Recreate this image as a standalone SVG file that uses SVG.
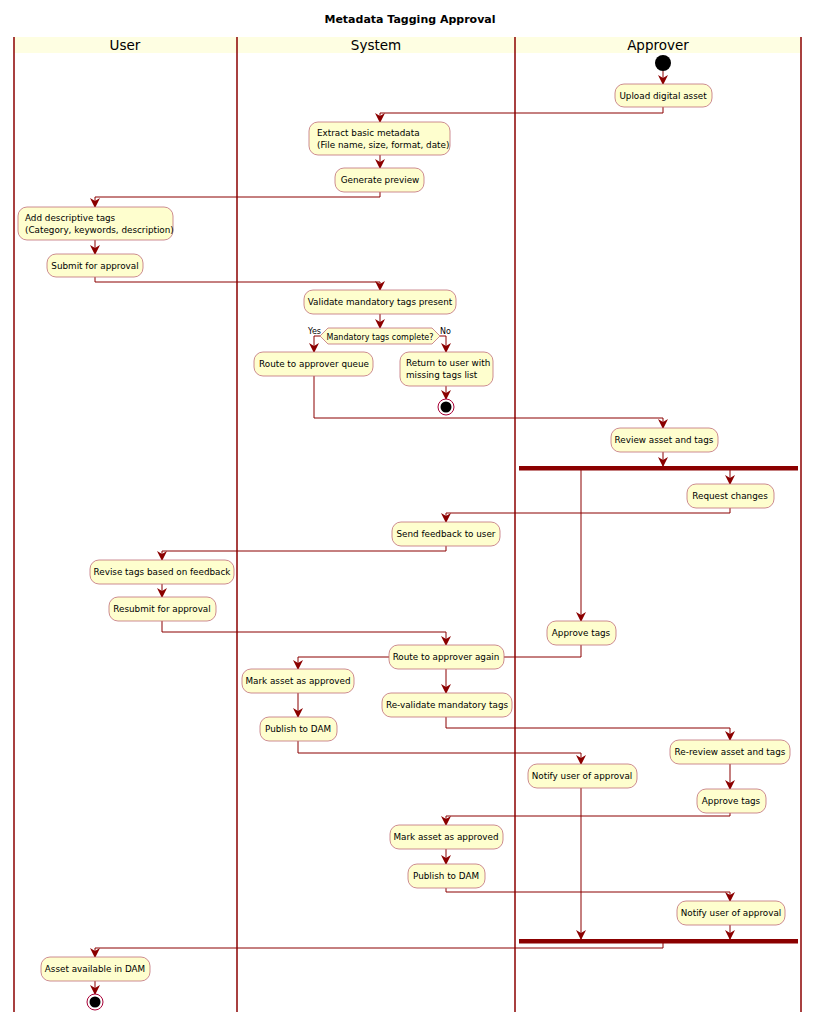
<svg xmlns="http://www.w3.org/2000/svg" width="821" height="1024" viewBox="0 0 821 1024">
<defs>
<marker id="ah" viewBox="0 0 10 10" refX="9" refY="5" markerWidth="10" markerHeight="10" markerUnits="userSpaceOnUse" orient="auto"><path d="M0,0 L10,5 L0,10 L3,5 Z" fill="#8B0000"/></marker>
</defs>
<style>
text{font-family:"DejaVu Sans",sans-serif;font-size:8.8px;fill:#000}
.n{fill:#FEFECE;stroke:#C0707A;stroke-width:0.8}
.c{fill:none;stroke:#8B0000;stroke-width:1;marker-end:url(#ah)}
.lane{stroke:#8B0000;stroke-width:1.5}
.h{font-size:13.5px}
</style>
<rect width="821" height="1024" fill="#fff"/>
<text x="410" y="23" text-anchor="middle" style="font-weight:bold;font-size:11px">Metadata Tagging Approval</text>
<g id="lanes">
<rect x="14" y="37" width="787" height="16" fill="#FEFEE2"/>
<line class="lane" x1="14" y1="37" x2="14" y2="1012"/>
<line class="lane" x1="237" y1="37" x2="237" y2="1012"/>
<line class="lane" x1="515" y1="37" x2="515" y2="1012"/>
<line class="lane" x1="801" y1="37" x2="801" y2="1012"/>
<text class="h" x="125" y="50" text-anchor="middle">User</text>
<text class="h" x="376" y="50" text-anchor="middle">System</text>
<text class="h" x="658" y="50" text-anchor="middle">Approver</text>
</g>
<g id="connectors">
<path class="c" d="M663,71 V84"/>
<path class="c" d="M663,107 V113 H380 V122"/>
<path class="c" d="M380,155 V168"/>
<path class="c" d="M380,192 V197 H95 V207"/>
<path class="c" d="M95,240 V254"/>
<path class="c" d="M95,277 V282 H380 V290"/>
<path class="c" d="M380,314 V328"/>
<path class="c" d="M320,336 H314 V352"/>
<path class="c" d="M440,336 H446 V352"/>
<path class="c" d="M446,386 V399"/>
<path class="c" d="M314,376 V418 H663 V428"/>
<path class="c" d="M663,452 V466"/>
<path class="c" d="M730,470 V484"/>
<path class="c" d="M581,470 V621"/>
<path class="c" d="M730,508 V513 H446 V522"/>
<path class="c" d="M446,546 V551 H162 V560"/>
<path class="c" d="M162,584 V597"/>
<path class="c" d="M162,621 V632 H446 V645"/>
<path class="c" d="M581,645 V657 H298 V669"/>
<path class="c" d="M446,669 V693"/>
<path class="c" d="M298,693 V717"/>
<path class="c" d="M446,717 V728 H730 V740"/>
<path class="c" d="M298,741 V753 H581 V764"/>
<path class="c" d="M730,764 V789"/>
<path class="c" d="M581,788 V939"/>
<path class="c" d="M730,813 V816 H446 V825"/>
<path class="c" d="M446,849 V864"/>
<path class="c" d="M446,888 V892 H730 V901"/>
<path class="c" d="M730,925 V939"/>
<path class="c" d="M663,943 V948 H95 V957"/>
<path class="c" d="M95,981 V994"/>
<text x="321" y="334" text-anchor="end" style="font-size:8px">Yes</text>
<text x="440" y="334" style="font-size:8px">No</text>
</g>
<g id="start"><circle cx="663" cy="63" r="8" fill="#000"/></g>
<g id="n1"><rect class="n" x="615" y="84" width="97" height="23" rx="9"/><text x="663" y="99" text-anchor="middle">Upload digital asset</text></g>
<g id="n2"><rect class="n" x="309" y="122" width="141" height="33" rx="9"/><text x="317" y="136">Extract basic metadata</text><text x="317" y="148">(File name, size, format, date)</text></g>
<g id="n3"><rect class="n" x="335" y="168" width="89" height="24" rx="9"/><text x="380" y="183" text-anchor="middle">Generate preview</text></g>
<g id="n4"><rect class="n" x="18" y="207" width="155" height="33" rx="9"/><text x="25" y="221">Add descriptive tags</text><text x="25" y="233">(Category, keywords, description)</text></g>
<g id="n5"><rect class="n" x="47" y="254" width="96" height="23" rx="9"/><text x="95" y="269" text-anchor="middle">Submit for approval</text></g>
<g id="n6"><rect class="n" x="304" y="290" width="152" height="24" rx="9"/><text x="380" y="305" text-anchor="middle">Validate mandatory tags present</text></g>
<g id="d1"><polygon class="n" points="320,336 328,328 432,328 440,336 432,344 328,344"/><text x="380" y="339.5" text-anchor="middle" style="font-size:8px">Mandatory tags complete?</text></g>
<g id="n7"><rect class="n" x="254" y="352" width="119" height="24" rx="9"/><text x="314" y="367" text-anchor="middle">Route to approver queue</text></g>
<g id="n8"><rect class="n" x="400" y="352" width="93" height="34" rx="9"/><text x="406" y="366">Return to user with</text><text x="406" y="378">missing tags list</text></g>
<g id="end1"><circle cx="446" cy="407" r="8" fill="#fff" stroke="#A80036"/><circle cx="446" cy="407" r="5.5" fill="#000"/></g>
<g id="n9"><rect class="n" x="611" y="428" width="107" height="24" rx="9"/><text x="664" y="443" text-anchor="middle">Review asset and tags</text></g>
<g id="fork"><rect x="519" y="466" width="279" height="4.5" fill="#8B0000"/></g>
<g id="n10"><rect class="n" x="687" y="484" width="87" height="24" rx="9"/><text x="730" y="499" text-anchor="middle">Request changes</text></g>
<g id="n11"><rect class="n" x="392" y="522" width="108" height="24" rx="9"/><text x="446" y="537" text-anchor="middle">Send feedback to user</text></g>
<g id="n12"><rect class="n" x="90" y="560" width="144" height="24" rx="9"/><text x="162" y="575" text-anchor="middle">Revise tags based on feedback</text></g>
<g id="n13"><rect class="n" x="109" y="597" width="107" height="24" rx="9"/><text x="162" y="612" text-anchor="middle">Resubmit for approval</text></g>
<g id="n14"><rect class="n" x="547" y="621" width="69" height="24" rx="9"/><text x="581" y="636" text-anchor="middle">Approve tags</text></g>
<g id="n15"><rect class="n" x="389" y="645" width="115" height="24" rx="9"/><text x="446" y="660" text-anchor="middle">Route to approver again</text></g>
<g id="n16"><rect class="n" x="242" y="669" width="112" height="24" rx="9"/><text x="298" y="684" text-anchor="middle">Mark asset as approved</text></g>
<g id="n17"><rect class="n" x="382" y="693" width="130" height="24" rx="9"/><text x="447" y="708" text-anchor="middle">Re-validate mandatory tags</text></g>
<g id="n18"><rect class="n" x="260" y="717" width="77" height="24" rx="9"/><text x="298" y="732" text-anchor="middle">Publish to DAM</text></g>
<g id="n19"><rect class="n" x="670" y="740" width="120" height="24" rx="9"/><text x="730" y="755" text-anchor="middle">Re-review asset and tags</text></g>
<g id="n20"><rect class="n" x="528" y="764" width="109" height="24" rx="9"/><text x="582" y="779" text-anchor="middle">Notify user of approval</text></g>
<g id="n21"><rect class="n" x="697" y="789" width="69" height="24" rx="9"/><text x="731" y="804" text-anchor="middle">Approve tags</text></g>
<g id="n22"><rect class="n" x="390" y="825" width="113" height="24" rx="9"/><text x="446" y="840" text-anchor="middle">Mark asset as approved</text></g>
<g id="n23"><rect class="n" x="408" y="864" width="77" height="24" rx="9"/><text x="446" y="879" text-anchor="middle">Publish to DAM</text></g>
<g id="n24"><rect class="n" x="677" y="901" width="108" height="24" rx="9"/><text x="731" y="916" text-anchor="middle">Notify user of approval</text></g>
<g id="join"><rect x="519" y="939" width="279" height="4.5" fill="#8B0000"/></g>
<g id="n25"><rect class="n" x="41" y="957" width="109" height="24" rx="9"/><text x="95" y="972" text-anchor="middle">Asset available in DAM</text></g>
<g id="end2"><circle cx="95" cy="1002" r="8" fill="#fff" stroke="#A80036"/><circle cx="95" cy="1002" r="5.5" fill="#000"/></g>
</svg>
